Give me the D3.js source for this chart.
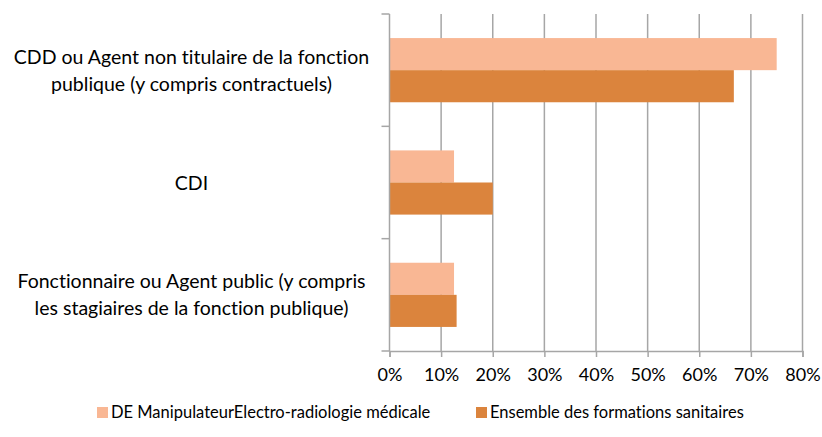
<!DOCTYPE html>
<html lang="fr">
<head>
<meta charset="UTF-8">
<title>Statut</title>
<script src="https://d3js.org/d3.v7.min.js"></script>
<style>
  body { margin: 0; background: #fff; }
  text { font-family: Lato, "Open Sans", sans-serif; fill: #000; font-variant-ligatures: none; }
</style>
</head>
<body>
<script>
// categories top to bottom
const categories = [
  ["CDD ou Agent non titulaire de la fonction", "publique (y compris contractuels)"],
  ["CDI"],
  ["Fonctionnaire ou Agent public (y compris", "les stagiaires de la fonction publique)"]
]
const seriesNames = ["DE ManipulateurElectro-radiologie  médicale", "Ensemble des formations sanitaires"]
const manipValues = [75, 12.5, 12.5]
const ensembleValues = [66.7, 20, 13]
const xTicks = [0, 10, 20, 30, 40, 50, 60, 70, 80]
const colors = ["#f9b794", "#db843d"]

const w = 822, h = 437
const margin = {top: 14, right: 20, bottom: 86, left: 389.5}
const width = 802.5 - margin.left
const height = 351 - margin.top

const svg = d3.select("body").append("svg")
    .attr("width", w).attr("height", h)

const g = svg.append("g")
    .attr("transform", "translate(" + margin.left + "," + margin.top + ")")

const x = d3.scaleLinear().domain([0, 80]).range([0, width])
const y = d3.scaleBand().domain(d3.range(categories.length)).range([0, height])
const sub = d3.scaleBand().domain([0, 1]).range([0, y.bandwidth()]).paddingOuter(0.75).paddingInner(0)

// gridlines
g.selectAll("line.grid").data(xTicks.slice(1))
  .enter().append("line")
    .attr("class", "grid")
    .attr("x1", d => x(d)).attr("x2", d => x(d))
    .attr("y1", 0).attr("y2", height)
    .attr("stroke", "#a6a6a6").attr("stroke-width", 1.5)

// bars
const data = []
categories.forEach((c, i) => {
  data.push({cat: i, s: 0, v: manipValues[i]})
  data.push({cat: i, s: 1, v: ensembleValues[i]})
})
g.selectAll("rect.bar").data(data)
  .enter().append("rect")
    .attr("class", "bar")
    .attr("x", 0)
    .attr("y", d => y(d.cat) + sub(d.s))
    .attr("width", d => x(d.v))
    .attr("height", sub.bandwidth())
    .attr("fill", d => colors[d.s])

// x axis
const xAxis = g.append("g")
    .attr("transform", "translate(0," + height + ")")
    .call(d3.axisBottom(x).tickValues(xTicks).tickSize(6).tickPadding(11).tickFormat(d => d + "%"))
xAxis.select(".domain").attr("stroke", "#a6a6a6").attr("stroke-width", 1.5)
xAxis.selectAll(".tick line").attr("stroke", "#a6a6a6").attr("stroke-width", 1.5)
xAxis.selectAll(".tick text").style("font-size", "18px").style("font-family", "Lato, sans-serif")

// y axis line and ticks at band boundaries
g.append("line")
    .attr("x1", 0).attr("x2", 0).attr("y1", 0).attr("y2", height)
    .attr("stroke", "#a6a6a6").attr("stroke-width", 1.5)
const yTicks = d3.range(categories.length + 1).map(i => i * y.step())
g.selectAll("line.ytick").data(yTicks)
  .enter().append("line")
    .attr("class", "ytick")
    .attr("x1", -8).attr("x2", 0)
    .attr("y1", d => d).attr("y2", d => d)
    .attr("stroke", "#a6a6a6").attr("stroke-width", 1.5)

// category labels
categories.forEach((lines, i) => {
  const cy = y(i) + y.bandwidth() / 2
  const t = g.append("text")
      .attr("x", -198)
      .attr("text-anchor", "middle")
      .style("font-size", "19.5px")
  lines.forEach((l, j) => {
    t.append("tspan")
        .attr("x", -198)
        .attr("y", cy + (j - (lines.length - 1) / 2) * 27 + 7)
        .text(l)
  })
})

// legend
const legendX = [97, 476]
const legend = svg.selectAll("g.legend").data(seriesNames)
  .enter().append("g")
    .attr("class", "legend")
    .attr("transform", (d, i) => "translate(" + legendX[i] + ",407)")
legend.append("rect")
    .attr("width", 11).attr("height", 11)
    .attr("fill", (d, i) => colors[i])
legend.append("text")
    .attr("x", 14).attr("y", 11)
    .style("font-size", "16.5px")
    .text(d => d)
</script>
</body>
</html>
